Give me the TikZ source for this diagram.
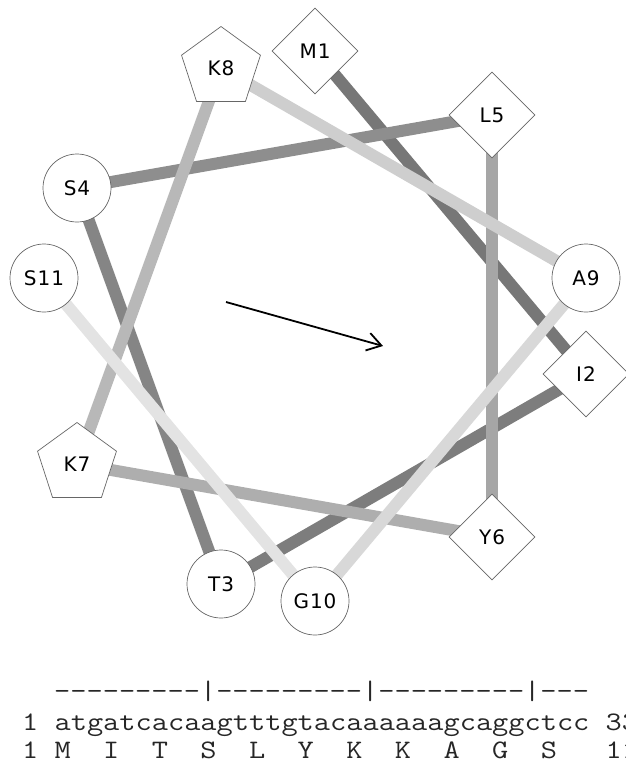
\documentclass[tikz,border=0pt]{standalone}
\usepackage{fontspec}
\newfontfamily\labfont{DejaVu Sans}[LetterSpace=5]
\newfontfamily\courfont{Latin Modern Mono}[FakeStretch=1.18, WordSpace={1,0,0}]
\usetikzlibrary{shapes.geometric,arrows.meta}
\pgfdeclarelayer{bg}
\pgfsetlayers{bg,main}
\definecolor{c1}{HTML}{777777}
\definecolor{c2}{HTML}{7D7D7D}
\definecolor{c3}{HTML}{858585}
\definecolor{c4}{HTML}{8E8E8E}
\definecolor{c5}{HTML}{A6A6A6}
\definecolor{c6}{HTML}{AEAEAE}
\definecolor{c7}{HTML}{B8B8B8}
\definecolor{c8}{HTML}{CECECE}
\definecolor{c9}{HTML}{D8D8D8}
\definecolor{c10}{HTML}{E3E3E3}
\begin{document}
\begin{tikzpicture}[x=1pt,y=-1pt,
  res/.style={fill=white, draw=black!60, line width=0.7pt, inner sep=0pt,
    font=\labfont\fontsize{20}{20}\selectfont},
  circ/.style={res, circle, minimum size=68pt},
  diam/.style={res, diamond, minimum width=86pt, minimum height=86pt},
  pent/.style={res, regular polygon, regular polygon sides=5, minimum size=83pt},
  lk/.style={line width=12pt},
  seq/.style={anchor=base west, inner sep=0pt, text=black!85,
    font=\courfont\fontsize{26.67}{30}\selectfont}]
\useasboundingbox (0,0) rectangle (625,764);
% residues
\node[diam] (M1) at (315,51) {M1};
\node[diam] (I2) at (586,374) {I2};
\node[circ] (T3) at (221,584) {T3};
\node[circ] (S4) at (77,188) {S4};
\node[diam] (L5) at (492,115) {L5};
\node[diam] (Y6) at (492,537) {Y6};
\node[pent] (K7) at (77,464) {K7};
\node[pent] (K8) at (221,68) {K8};
\node[circ] (A9) at (586,278) {A9};
\node[circ] (G10) at (315,601) {G10};
\node[circ] (S11) at (44,278) {S11};
% connectors
\begin{pgfonlayer}{bg}
\draw[lk, draw=c1] (M1.center) -- (I2.center);
\draw[lk, draw=c2] (I2.center) -- (T3.center);
\draw[lk, draw=c3] (T3.center) -- (S4.center);
\draw[lk, draw=c4] (S4.center) -- (L5.center);
\draw[lk, draw=c5] (L5.center) -- (Y6.center);
\draw[lk, draw=c6] (Y6.center) -- (K7.center);
\draw[lk, draw=c7] (K7.center) -- (K8.center);
\draw[lk, draw=c8] (K8.center) -- (A9.center);
\draw[lk, draw=c9] (A9.center) -- (G10.center);
\draw[lk, draw=c10] (G10.center) -- (S11.center);
\end{pgfonlayer}
% moment arrow
\coordinate (as) at (226,302);
\coordinate (ae) at (383,346);
\draw[line width=1.8pt, -{Straight Barb[length=14pt,width=18pt]}] (as) -- (ae);
% sequence text
\node[seq] (ruler) at (54,699) {---------|---------|---------|---};
\node[seq] (dna) at (22,730) {1 atgatcacaagtttgtacaaaaaagcaggctcc 33};
\node[seq] (prot) at (22,758) {1 M~~I~~T~~S~~L~~Y~~K~~K~~A~~G~~S~~~11};
\end{tikzpicture}
\end{document}
